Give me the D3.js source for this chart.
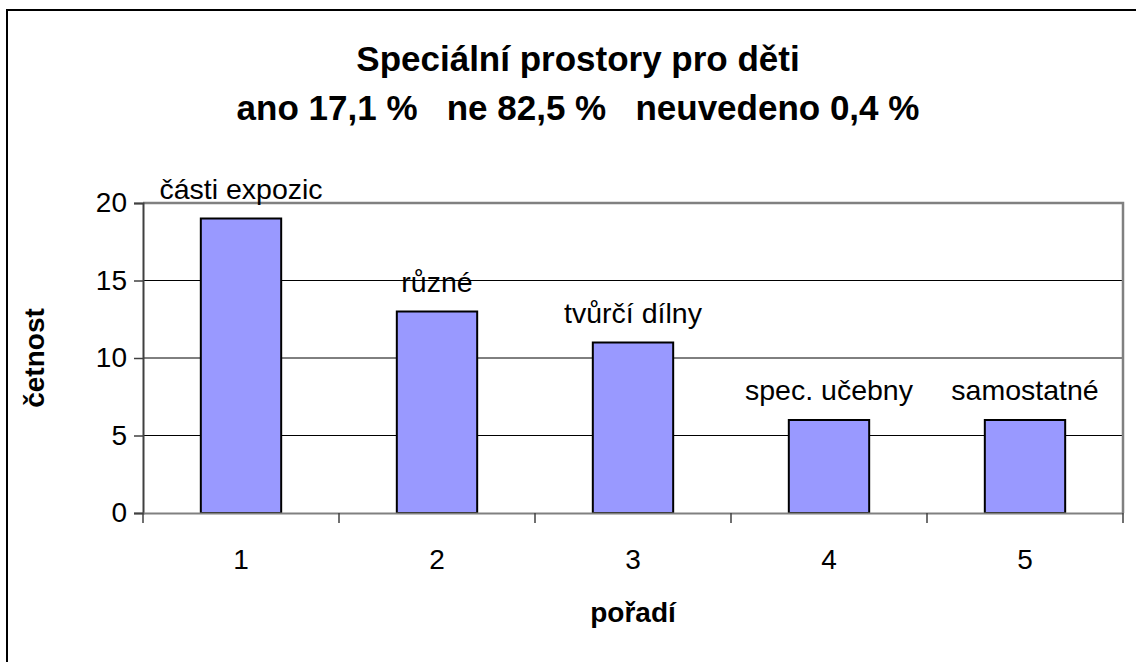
<!DOCTYPE html>
<html><head><meta charset="utf-8">
<script src="https://cdn.jsdelivr.net/npm/d3@7"></script>
<style>body{margin:0;background:#fff}svg{display:block;font-family:Arial,"Liberation Sans",sans-serif}text{white-space:pre}</style>
</head><body>
<script>
const categories = ["1","2","3","4","5"];
const values = [19, 13, 11, 6, 6];
const barLabels = ["části expozic","různé","tvůrčí dílny","spec. učebny","samostatné"];
const yTicks = [0,5,10,15,20];
const titleLines = ["Speciální prostory pro děti","ano 17,1 %   ne 82,5 %   neuvedeno 0,4 %"];
const xTitle = "pořadí";
const yTitle = "četnost";

const W = 1136, H = 662;
const plot = {l:143, r:1123, t:203, b:513};
const svg = d3.select("body").append("svg").attr("width",W).attr("height",H);

// outer border (only left/top visible)
svg.append("rect").attr("x",7).attr("y",10).attr("width",1200).attr("height",800)
  .attr("fill","none").attr("stroke","#000").attr("stroke-width",2);

const x = d3.scaleBand().domain(categories).range([plot.l,plot.r]).paddingInner(0.59).paddingOuter(0.295);
const xb = d3.scaleBand().domain(categories).range([plot.l,plot.r]).padding(0);
const y = d3.scaleLinear().domain([0,20]).range([plot.b,plot.t]);

// gridlines
svg.append("g").selectAll("line").data(yTicks.filter(d=>d>0 && d<20)).join("line")
  .attr("x1",plot.l).attr("x2",plot.r).attr("y1",d=>y(d)).attr("y2",d=>y(d))
  .attr("stroke","#000").attr("stroke-width",1);

// plot border top/right
svg.append("path").attr("d",`M${plot.l},${plot.t}H${plot.r}V${plot.b}`)
  .attr("fill","none").attr("stroke","#808080").attr("stroke-width",2.5);

// bars
svg.append("g").selectAll("rect").data(values).join("rect")
  .attr("x",(d,i)=>x(categories[i])).attr("width",x.bandwidth())
  .attr("y",d=>y(d)).attr("height",d=>y(0)-y(d))
  .attr("fill","#9999FF").attr("stroke","#000").attr("stroke-width",2);

// y axis
const yAxis = d3.axisLeft(y).tickValues(yTicks).tickSize(9).tickPadding(7);
const gy = svg.append("g").attr("transform",`translate(${plot.l},0)`).call(yAxis);
gy.select(".domain").attr("stroke","#404040").attr("stroke-width",2);
gy.selectAll(".tick line").attr("stroke","#404040").attr("stroke-width",1.5);
gy.selectAll("text").attr("font-size",28).attr("fill","#000").attr("font-family","Arial, Liberation Sans, sans-serif");

// x axis
const xAxis = d3.axisBottom(xb).tickSize(0).tickPadding(36);
const gx = svg.append("g").attr("transform",`translate(0,${plot.b})`).call(xAxis);
gx.select(".domain").attr("stroke","#808080").attr("stroke-width",2);
gx.selectAll("text").attr("font-size",28).attr("fill","#000").attr("font-family","Arial, Liberation Sans, sans-serif");
// category boundary ticks
const bounds = categories.map(c=>xb(c)).concat([plot.r]);
svg.append("g").selectAll("line").data(bounds).join("line")
  .attr("x1",d=>d).attr("x2",d=>d).attr("y1",plot.b).attr("y2",plot.b+10)
  .attr("stroke","#404040").attr("stroke-width",1.5);

// bar labels
svg.append("g").selectAll("text").data(values).join("text")
  .attr("x",(d,i)=>x(categories[i])+x.bandwidth()/2).attr("y",d=>y(d)-20)
  .attr("text-anchor","middle").attr("font-size",28.5).attr("fill","#000")
  .text((d,i)=>barLabels[i]);

// title
svg.append("g").selectAll("text").data(titleLines).join("text")
  .attr("x",578).attr("y",(d,i)=>71+i*49)
  .attr("text-anchor","middle").attr("font-size",35).attr("font-weight","bold")
  .attr("xml:space","preserve")
  .text(d=>d);

// axis titles
svg.append("text").attr("x",(plot.l+plot.r)/2).attr("y",622).attr("text-anchor","middle")
  .attr("font-size",28).attr("font-weight","bold").text(xTitle);
svg.append("text").attr("transform",`translate(44,${(plot.t+plot.b)/2}) rotate(-90)`)
  .attr("text-anchor","middle").attr("font-size",28).attr("font-weight","bold").text(yTitle);
</script>
</body></html>
